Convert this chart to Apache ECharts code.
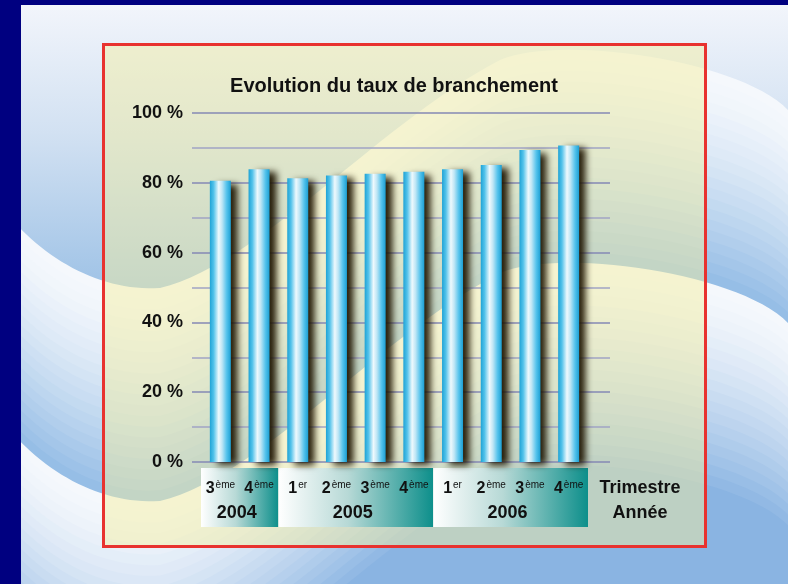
<!DOCTYPE html>
<html>
<head>
<meta charset="utf-8">
<script src="https://cdn.jsdelivr.net/npm/echarts@6/dist/echarts.min.js"></script>
<style>
  html, body { margin: 0; padding: 0; background: #000080; }
  #main { width: 788px; height: 584px; }
</style>
</head>
<body>
<div id="main"></div>
<script>
// données
var quarterNum = ['3', '4', '1', '2', '3', '4', '1', '2', '3', '4']
var quarterSuffix = ['ème', 'ème', 'er', 'ème', 'ème', 'ème', 'er', 'ème', 'ème', 'ème']
var categories = quarterNum.map(function (n, i) { return n + quarterSuffix[i] + ' ' + i })
var tauxBranchement = [80.6, 83.9, 81.3, 82.1, 82.6, 83.2, 83.9, 85.1, 89.4, 90.7]
var years = ['2004', '2005', '2006']
var yearRanges = [[0, 1], [2, 5], [6, 9]]
var yTicks = [0, 20, 40, 60, 80, 100]

var FONT = '"Liberation Sans", Arial, sans-serif'

// fond : vagues bleues (courbe échantillonnée en polygone)
var waveSegs = [
  [[0, 205], [40, 258], [100, 292], [160, 288]],
  [[160, 288], [260, 264], [380, 122], [500, 60]],
  [[500, 60], [560, 34], [740, 60], [788, 110]]
]
function wavePoints() {
  var pts = []
  waveSegs.forEach(function (s) {
    for (var i = 0; i <= 30; i++) {
      var t = i / 30, u = 1 - t
      var a = u * u * u, b = 3 * u * u * t, c = 3 * u * t * t, d = t * t * t
      pts.push([a * s[0][0] + b * s[1][0] + c * s[2][0] + d * s[3][0],
                a * s[0][1] + b * s[1][1] + c * s[2][1] + d * s[3][1]])
    }
  })
  pts.push([788, 900], [0, 900])
  return pts
}
var wave = wavePoints()
var shiftB = 213
var steps = 20
function mix(t, end) {
  var a = [245, 248, 252], b = end || [140, 182, 226]
  t = Math.pow(t, 1.4)
  return 'rgb(' + a.map(function (v, k) { return Math.round(v + (b[k] - v) * t) }).join(',') + ')'
}
var bg = [{
  type: 'rect', z: -200,
  shape: { x: 0, y: 0, width: 788, height: 584 },
  style: { fill: new echarts.graphic.LinearGradient(0, 5, 0, 290, [
    { offset: 0, color: '#f2f5fb' }, { offset: 0.45, color: '#d2e1f2' },
    { offset: 1, color: '#9ec2e6' }], true) }
}]
var zz = -199
for (var b = 0; b < 2; b++) {
  for (var k = 0; k < steps; k++) {
    bg.push({
      type: 'polygon', z: zz++, y: b * shiftB + k * shiftB / steps,
      shape: { points: wave },
      style: { fill: mix(k / (steps - 1), b === 0 ? [150, 190, 230] : [138, 180, 226]) }
    })
  }
}
bg.push({ type: 'rect', z: -100, shape: { x: 0, y: 0, width: 21, height: 584 }, style: { fill: '#000080' } })
bg.push({ type: 'rect', z: -100, shape: { x: 0, y: 0, width: 788, height: 5 }, style: { fill: '#000080' } })
bg.push({
  type: 'rect', z: -99,
  shape: { x: 103.5, y: 44.5, width: 602, height: 502 },
  style: { fill: 'rgba(244,238,160,0.48)', stroke: '#e8322f', lineWidth: 3 }
})

var option = {
  animation: false,
  title: {
    text: 'Evolution du taux de branchement',
    left: 'center',
    top: 71,
    textStyle: { fontFamily: FONT, fontSize: 20, fontWeight: 'bold', color: '#111' }
  },
  graphic: bg,
  grid: [
    { left: 201, right: 200, top: 113, bottom: 122 },
    { left: 192, right: 178, top: 113, bottom: 122 }
  ],
  xAxis: [
    {
      type: 'category', gridIndex: 0, data: categories, z: 5,
      axisLine: { show: false }, axisTick: { show: false },
      axisLabel: {
        interval: 0,
        hideOverlap: false,
        margin: 18,
        formatter: function (v, i) { return '{n|' + quarterNum[i] + '}{s|' + quarterSuffix[i] + '}' },
        rich: {
          n: { fontFamily: FONT, fontSize: 16, fontWeight: 'bold', color: '#111', lineHeight: 18 },
          s: { fontFamily: FONT, fontSize: 10, color: '#111', verticalAlign: 'top', padding: [0, 0, 0, 1] }
        }
      },
      name: 'Trimestre\nAnnée',
      nameLocation: 'end',
      nameGap: 52,
      nameTextStyle: {
        fontFamily: FONT, fontSize: 18, fontWeight: 'bold', color: '#111',
        align: 'center', verticalAlign: 'top', lineHeight: 25, padding: [14, 0, 0, 0]
      }
    },
    { type: 'value', gridIndex: 1, min: 0, max: 1, show: false }
  ],
  yAxis: [
    { type: 'value', gridIndex: 0, min: 0, max: 100, show: false },
    {
      type: 'value', gridIndex: 1, min: 0, max: 100, interval: 10,
      axisLine: { show: false }, axisTick: { show: false },
      splitLine: { lineStyle: { color: ['#8589b5', '#a0a3c5'], width: 1.5 } },
      axisLabel: {
        margin: 9,
        fontFamily: FONT, fontSize: 18, fontWeight: 'bold', color: '#111',
        formatter: function (v) { return yTicks.indexOf(v) >= 0 ? v + ' %' : '' }
      }
    }
  ],
  series: [
    {
      type: 'custom',
      xAxisIndex: 0, yAxisIndex: 0,
      z: 1,
      clip: false,
      data: yearRanges,
      renderItem: function (params, api) {
        var band = api.size([1, 0])[0]
        var x0 = api.coord([api.value(0), 0])[0] - band / 2
        var x1 = api.coord([api.value(1), 0])[0] + band / 2
        var yb = api.coord([0, 0])[1]
        return {
          type: 'group',
          children: [
            {
              type: 'rect',
              shape: { x: x0, y: yb + 6, width: x1 - x0, height: 59 },
              style: { fill: new echarts.graphic.LinearGradient(0, 0, 1, 0, [
                { offset: 0, color: '#ffffff' },
                { offset: 0.45, color: '#b7d9d6' },
                { offset: 1, color: '#0d8f8b' }
              ]) }
            },
            {
              type: 'text',
              style: {
                text: years[params.dataIndex],
                x: (x0 + x1) / 2 - 3, y: yb + 51,
                align: 'center', verticalAlign: 'middle',
                font: 'bold 18px ' + FONT, fill: '#111'
              }
            }
          ]
        }
      }
    },
    {
      type: 'bar',
      xAxisIndex: 0, yAxisIndex: 0,
      barWidth: 21,
      data: tauxBranchement,
      itemStyle: {
        color: new echarts.graphic.LinearGradient(0, 0, 1, 0, [
          { offset: 0, color: '#1fa3d6' },
          { offset: 0.18, color: '#52c2ea' },
          { offset: 0.42, color: '#eef9fd' },
          { offset: 0.58, color: '#bfe6f5' },
          { offset: 0.8, color: '#55c3ec' },
          { offset: 1, color: '#1c9fd3' }
        ]),
        shadowColor: 'rgba(30,20,0,0.95)',
        shadowBlur: 7,
        shadowOffsetX: 7,
        shadowOffsetY: 3
      }
    }
  ]
}

var myChart = echarts.init(document.getElementById('main'))
myChart.setOption(option)
</script>
</body>
</html>
